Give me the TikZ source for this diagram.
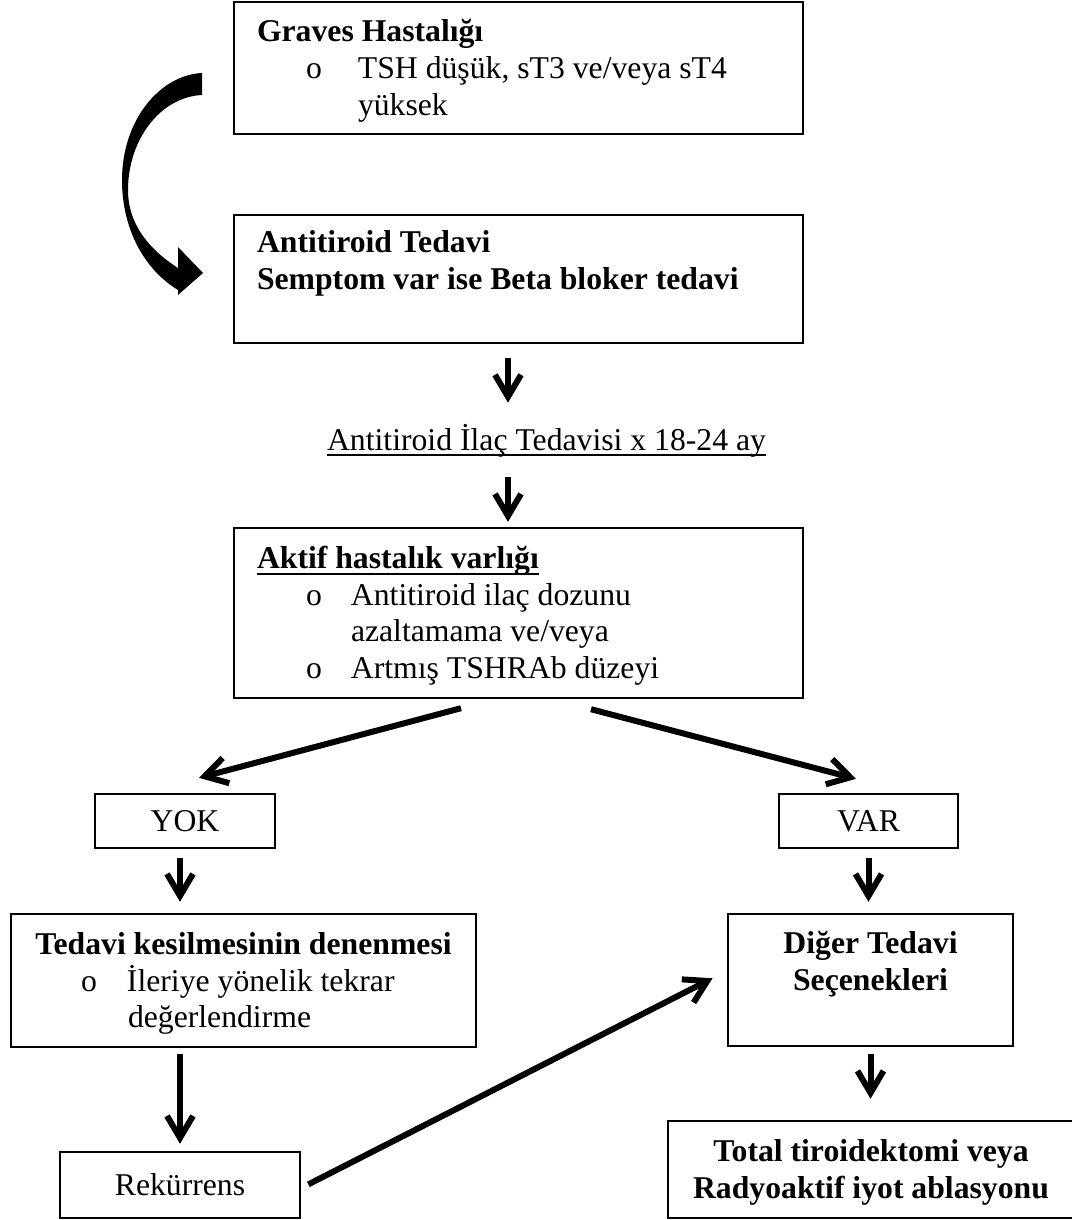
\documentclass[tikz,border=0pt]{standalone}
\usepackage{fontspec}
\setmainfont{Liberation Serif}
\usetikzlibrary{arrows.meta}
\newsavebox{\ulbox}
\newcommand{\ultext}[1]{\sbox{\ulbox}{#1}\rlap{\rule[-3.1pt]{\wd\ulbox}{0.9pt}}\usebox{\ulbox}}
\newcommand{\boxstrut}{\rule[-3.95pt]{0pt}{18.4pt}}
\begin{document}
\begin{tikzpicture}[x=0.5pt,y=-0.5pt,font=\fontsize{15.85}{18.4}\selectfont,
                    every node/.style={execute at begin node={\spaceskip=0pt\xspaceskip=0pt}},
                    box node/.style={rectangle,draw,line width=1.2pt,inner sep=0pt},
                    list node/.style={box node,align=left,inner xsep=11.5pt},
                    mid node/.style={box node,align=center},
                    arrow line/.style={line width=3pt,-{Straight Barb[length=11pt,width=13pt]}}]
  \useasboundingbox (0,0) rectangle (1071,1220);

  \node[list node,minimum width=284.5pt,minimum height=66pt,text width=261.5pt] (1) at (518.5,68)
    {\boxstrut\textbf{Graves Hastalığı}\\
     \boxstrut\hspace*{24.5pt}\makebox[26pt][l]{o}TSH düşük, sT3 ve/veya sT4\\
     \boxstrut\hspace*{50.5pt}yüksek};
  \node[list node,minimum width=284.5pt,minimum height=64pt,text width=261.5pt] (2) at (518.5,279)
    {\boxstrut\textbf{Antitiroid Tedavi}\\
     \boxstrut\textbf{Semptom var ise Beta bloker tedavi}\\
     \boxstrut};
  \node[inner sep=0pt,anchor=base] (3) at (546.5,450) {\boxstrut\ultext{Antitiroid İlaç Tedavisi x 18-24 ay}};
  \node[list node,minimum width=284.5pt,minimum height=85pt,text width=261.5pt] (4) at (518.5,613)
    {\boxstrut\ultext{\textbf{Aktif hastalık varlığı}}\\
     \boxstrut\hspace*{24.5pt}\makebox[22.5pt][l]{o}Antitiroid ilaç dozunu\\
     \boxstrut\hspace*{47pt}azaltamama ve/veya\\
     \boxstrut\hspace*{24.5pt}\makebox[22.5pt][l]{o}Artmış TSHRAb düzeyi};
  \node[mid node,minimum width=90pt,minimum height=27pt] (5) at (185,821) {\boxstrut YOK};
  \node[mid node,minimum width=89.5pt,minimum height=27pt] (6) at (868.5,821) {\boxstrut VAR};
  \node[list node,inner xsep=5pt,minimum width=232.5pt,minimum height=66.5pt,text width=222.5pt] (7) at (243.5,980.5)
    {\boxstrut\makebox[\linewidth]{\textbf{Tedavi kesilmesinin denenmesi}}\\
     \boxstrut\hspace*{30pt}\makebox[23pt][l]{o}İleriye yönelik tekrar\\
     \boxstrut\hspace*{53.5pt}değerlendirme};
  \node[mid node,minimum width=142.5pt,minimum height=66pt] (8) at (870.5,980)
    {\boxstrut\textbf{Diğer Tedavi}\\ \boxstrut\textbf{Seçenekleri}\\ \boxstrut};
  \node[mid node,minimum width=120pt,minimum height=33pt] (9) at (180,1185) {\boxstrut Rekürrens};
  \node[mid node,minimum width=203pt,minimum height=48.5pt] (10) at (871,1169.5)
    {\boxstrut\textbf{Total tiroidektomi veya}\\ \boxstrut\textbf{Radyoaktif iyot ablasyonu}};

  \fill (202,73) .. controls (160,75) and (122,120) .. (122,180)
        .. controls (122,230) and (145,270) .. (178,290)
        -- (178,295) -- (203,273) -- (178,247) -- (178,268)
        .. controls (150,250) and (128,225) .. (128,190)
        .. controls (128,140) and (160,97) .. (202,95) -- cycle;

  \path[arrow line]
    ([xshift=-5.25pt]2.south) edge[shorten <=7pt,shorten >=9pt] ([xshift=-5.25pt]2.south |- 3.north)
    ([xshift=-5.25pt]4.north |- 3.south) edge[shorten <=9.5pt,shorten >=2.5pt] ([xshift=-5.25pt]4.north)
    ([xshift=-28.75pt,yshift=-4.5pt]4.south) edge ([xshift=7pt,yshift=7.5pt]5.north)
    ([xshift=36.25pt,yshift=-5pt]4.south) edge ([xshift=-6.25pt,yshift=7pt]6.north)
    ([xshift=-2.5pt]5.south) edge[shorten <=4.5pt,shorten >=5.5pt] ([xshift=-2.5pt]5.south |- 7.north)
    (6.south) edge[shorten <=4.5pt,shorten >=5.5pt] (6.south |- 8.north)
    (9.north |- 7.south) edge[shorten <=3pt,shorten >=3.5pt] (9.north)
    ([yshift=-1.5pt]9.east) edge[shorten <=4pt,shorten >=8pt] ([yshift=4.5pt]8.west)
    (8.south) edge[shorten <=3.5pt,shorten >=10.5pt] (8.south |- 10.north);
\end{tikzpicture}
\end{document}
